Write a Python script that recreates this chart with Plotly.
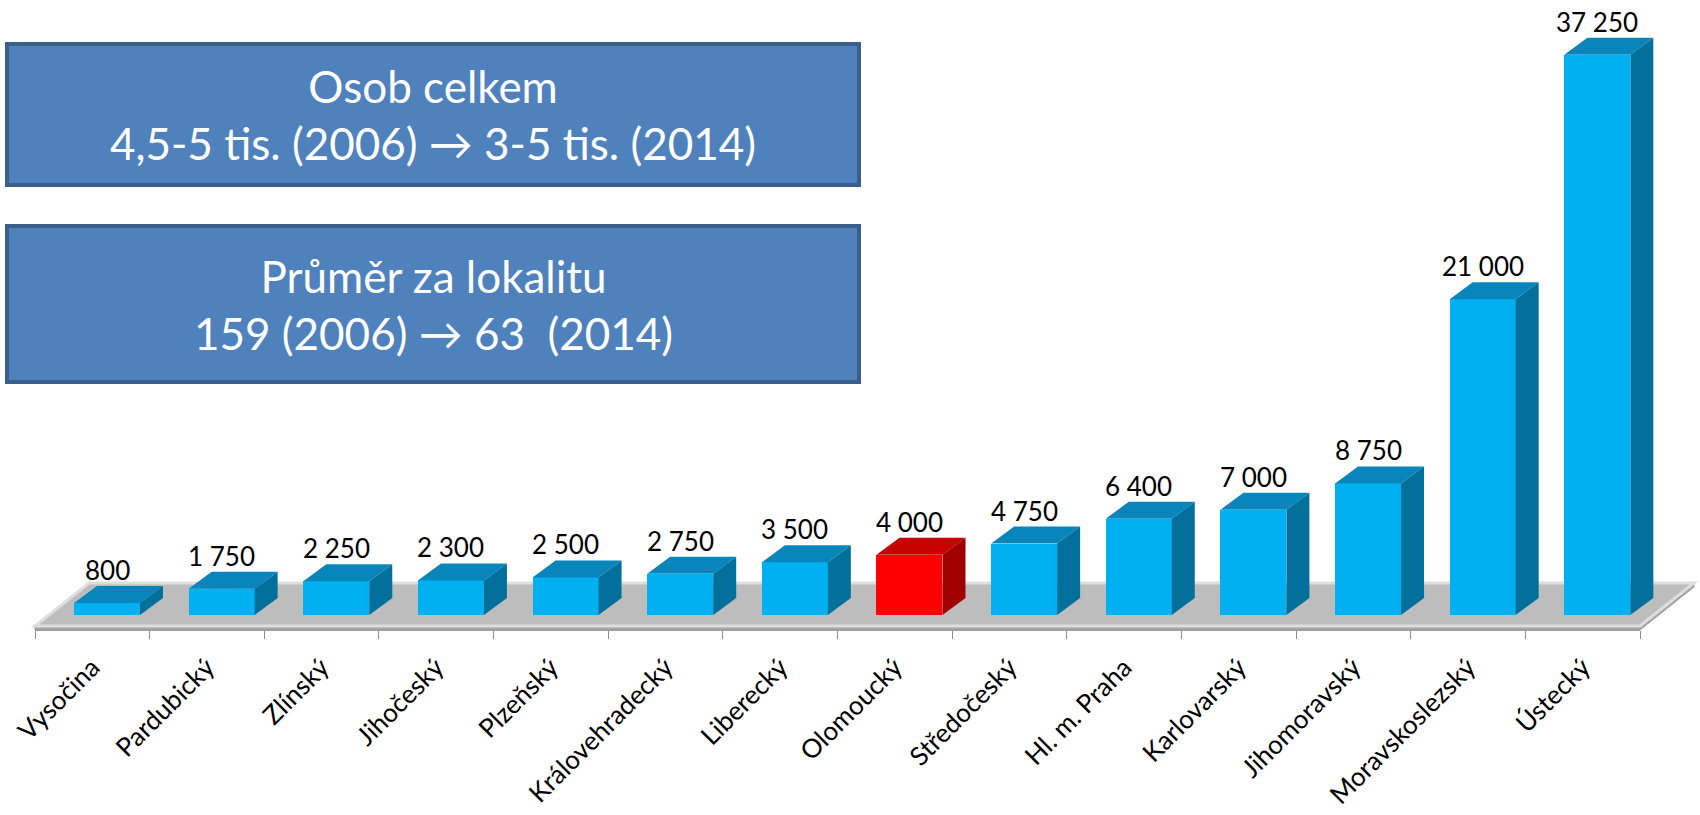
import plotly.graph_objects as go

# ---------------- data ----------------
categories = ["Vysočina", "Pardubický", "Zlínský", "Jihočeský", "Plzeňský",
              "Královehradecký", "Liberecký", "Olomoucký", "Středočeský",
              "Hl. m. Praha", "Karlovarský", "Jihomoravský", "Moravskoslezský", "Ústecký"]
values = [800, 1750, 2250, 2300, 2500, 2750, 3500, 4000, 4750, 6400, 7000, 8750, 21000, 37250]
highlight = "Olomoucký"
box1_lines = ["Osob celkem", "4,5-5 tis. (2006) \u2192 3-5 tis. (2014)"]
box2_lines = ["Průměr za lokalitu", "159 (2006) \u2192 63  (2014)"]

# ---------------- geometry (pixels) ----------------
FIG_W, FIG_H = 1700, 815
W = 114.64          # px per category
X0 = 92.3           # px of category 0 centre on floor front edge
Y0 = 615.0          # px of value 0 (bar bottoms)
K = 0.01504         # px per unit value

def ux(px):
    return px / W

def uy(px):
    return px / K

x_range = [(0 - X0) / W, (FIG_W - X0) / W]
y_range = [(Y0 - FIG_H) / K, Y0 / K]

BAR_OFF = ux(74 - X0)       # front-face left edge offset
BAR_W = ux(66)
BAR_DX = ux(23)
BAR_DY = uy(17)

n = len(categories)
font_fam = "Lato, 'Open Sans', sans-serif"

def fmt(v):
    return f"{v:,}".replace(",", " ")

def path(xs, ys):
    pts = [f"{x:.5f},{y:.3f}" for x, y in zip(xs, ys)]
    return "M " + " L ".join(pts) + " Z"

fig = go.Figure()

# ---------------- floor (below the bars) ----------------
fl, fr = -0.5, n - 0.5
f_front = -uy(11)
f_bottom = -uy(15)
f_back = uy(32)
f_shift = ux(54)
fig.add_shape(type="path", xref="x", yref="y", layer="below",
              path=path([fl, fr, fr + f_shift, fr + f_shift, fr, fl],
                        [f_front, f_front, f_back, f_back - uy(4), f_bottom, f_bottom]),
              fillcolor="#A6A6A6", line=dict(color="#9A9A9A", width=1))
fig.add_shape(type="path", xref="x", yref="y", layer="below",
              path=path([fl, fr, fr + f_shift, fl + f_shift],
                        [f_front, f_front, f_back, f_back]),
              fillcolor="#BDBDBD", line=dict(color="#DEDEDE", width=3))

# ---------------- bars ----------------
front_cols, top_cols, side_cols = [], [], []
for c in categories:
    if c == highlight:
        front_cols.append("#FF0000"); top_cols.append("#C80000"); side_cols.append("#A00000")
    else:
        front_cols.append("#00B0F0"); top_cols.append("#0886BC"); side_cols.append("#02709A")

centers = [i + BAR_OFF + BAR_W / 2 for i in range(n)]
fig.add_trace(go.Bar(
    x=centers, y=values, base=0, width=BAR_W,
    marker=dict(color=front_cols, line=dict(width=0)),
    hoverinfo="skip", showlegend=False))

for i, v in enumerate(values):
    xl = i + BAR_OFF
    xr = xl + BAR_W
    # top face
    fig.add_trace(go.Scatter(
        x=[xl, xr, xr + BAR_DX, xl + BAR_DX, xl],
        y=[v, v, v + BAR_DY, v + BAR_DY, v],
        fill="toself", fillcolor=top_cols[i], mode="lines",
        line=dict(width=0, color=top_cols[i]), hoverinfo="skip", showlegend=False))
    # side face
    fig.add_trace(go.Scatter(
        x=[xr, xr + BAR_DX, xr + BAR_DX, xr, xr],
        y=[0, BAR_DY, v + BAR_DY, v, 0],
        fill="toself", fillcolor=side_cols[i], mode="lines",
        line=dict(width=0, color=side_cols[i]), hoverinfo="skip", showlegend=False))

# value labels
for i, v in enumerate(values):
    fig.add_annotation(
        x=centers[i], y=v + BAR_DY, xref="x", yref="y",
        text=fmt(v), showarrow=False, yanchor="bottom", xanchor="center",
        font=dict(family=font_fam, size=26, color="#000000"), yshift=-2)

# ---------------- category axis (second subplot) ----------------
fig.add_trace(go.Scatter(
    x=categories, y=[0] * n, xaxis="x2", yaxis="y2", mode="markers",
    marker=dict(opacity=0), hoverinfo="skip", showlegend=False))

axis_y = 1 - 630 / FIG_H

fig.update_layout(
    width=FIG_W, height=FIG_H,
    margin=dict(l=0, r=0, t=0, b=0, autoexpand=False),
    paper_bgcolor="white", plot_bgcolor="rgba(0,0,0,0)",
    bargap=0,
    xaxis=dict(range=x_range, visible=False, domain=[0, 1], automargin=False),
    yaxis=dict(range=y_range, visible=False, domain=[0, 1], automargin=False),
    xaxis2=dict(domain=[35 / FIG_W, 1640 / FIG_W], anchor="y2", type="category",
                range=[-0.5, n - 0.5], tickson="boundaries", ticks="outside",
                ticklen=8, tickcolor="#8C8C8C", tickwidth=1, automargin=False,
                showline=True, linecolor="#9C9C9C", linewidth=1, showgrid=False,
                tickangle=-45, ticklabelstandoff=11,
                tickfont=dict(family=font_fam, size=26, color="#000000")),
    yaxis2=dict(domain=[axis_y, axis_y + 0.0005], anchor="x2", visible=False,
                range=[0, 1], automargin=False),
)

# ---------------- text boxes ----------------
def add_box(y_top, y_bot, lines):
    fig.add_shape(type="rect", xref="paper", yref="paper",
                  x0=7 / FIG_W, x1=859 / FIG_W,
                  y0=1 - y_bot / FIG_H, y1=1 - y_top / FIG_H,
                  fillcolor="#4F81BD", line=dict(color="#3A5F8C", width=4))
    fig.add_annotation(
        xref="paper", yref="paper", x=433 / FIG_W, y=1 - (y_top + y_bot) / 2 / FIG_H,
        text="<br>".join(lines), showarrow=False, xanchor="center", yanchor="middle",
        font=dict(family=font_fam, size=44, color="#FFFFFF"), align="center")

add_box(44, 185, box1_lines)
add_box(226, 382, box2_lines)

fig.write_html("out.html", config={"displayModeBar": False},
               post_script="document.body.style.margin='0';document.body.style.overflow='hidden';")
